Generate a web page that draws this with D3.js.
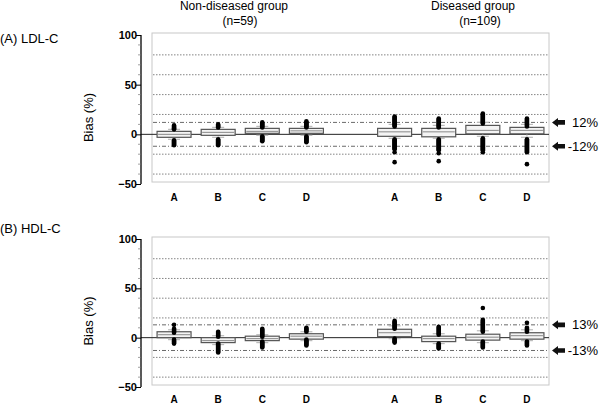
<!DOCTYPE html>
<html>
<head>
  <meta charset="utf-8"><script src="https://d3js.org/d3.v7.min.js"></script>
</head>
<body style="margin:0" onload="execute()">
  <svg id="mychart" width="600" height="404" style="background: white"></svg>
</body>
<script>
  // categories and groups
  categories = ["A", "B", "C", "D"]
  groups = ["Non-diseased group", "Diseased group"]
  groupN = ["(n=59)", "(n=109)"]
  yTicks = [100, 50, 0, -50]
  minorTicks = [90, 80, 70, 60, 40, 30, 20, 10, -10, -20, -30, -40]
  dottedGrid = [80, 60, 40, 20, -20, -40]
  ldlLimits = [12, -12]
  hdlLimits = [13, -13]

  // box stats: [q1, median, q3, whiskerLow, whiskerHigh], order ND A-D then D A-D
  ldlBoxes = [
    [-3, 0, 3, -5, 5], [-1, 2, 5, -3, 7], [1, 3, 6, -1, 8], [1, 3.5, 6, -1, 8],
    [-2, 2.5, 6, -4, 10], [-2.5, 2.5, 6, -4, 9], [0.5, 4, 9, -2, 12], [0.5, 4, 7, -3, 10]
  ]
  ldlOutliers = [
    [5, 6, 7, 8, 9, -6, -7, -8, -9, -10, -11],
    [7, 8, 9, 10, -5, -6, -7, -8, -9, -10, -11],
    [7, 8, 9, 10, 11, 12, -2, -3, -4, -5, -6, -7],
    [7, 8, 9, 10, 11, 12, 13, -2, -3, -4, -5, -6, -7, -8],
    [8, 9, 10, 11, 12, 13, 14, 15, 16, 17, 18, -5, -6, -7, -8, -9, -10, -11, -12, -13, -14, -15, -18, -28],
    [7, 8, 9, 10, 11, 12, 13, 14, 15, 16, -5, -6, -7, -8, -9, -10, -11, -12, -13, -14, -15, -16, -19, -27],
    [11, 12, 13, 14, 15, 16, 17, 18, 19, 20, 21, -4, -5, -6, -7, -8, -9, -10, -11, -12, -13, -14, -15, -16, -18],
    [8, 9, 10, 11, 12, 13, 14, 15, 16, -5, -6, -7, -8, -9, -10, -11, -12, -13, -14, -15, -16, -17, -18, -30]
  ]
  hdlBoxes = [
    [0, 3, 6, -2, 8], [-5, -3, 0, -7, 2], [-3, -1, 1.5, -5, 3], [-1.5, 1.5, 4, -3, 6],
    [1, 5, 8.5, -1, 12], [-4, -1, 1.5, -6, 4], [-2.5, 0.5, 3.5, -5, 7], [-1.5, 2, 5, -3, 8]
  ]
  hdlOutliers = [
    [5, 6, 7, 8, 9, 13, -2, -3, -4, -5, -6],
    [1, 2, 3, 4, 5, 6, -6, -7, -8, -9, -10, -11, -12, -13, -14, -15],
    [1, 2, 3, 4, 5, 6, 7, 8, 9, -4, -5, -6, -7, -8, -9, -10],
    [6, 7, 8, 9, 10, -2, -3, -4, -5, -6, -7, -8],
    [9, 10, 11, 12, 13, 14, 15, 16, 17, -1, -2, -3, -4, -5],
    [3, 4, 5, 6, 7, 8, 9, 10, 11, -6, -7, -8, -9, -10, -11],
    [6, 7, 8, 9, 10, 11, 12, 13, 14, 15, 16, 17, 18, 30, -4, -5, -6, -7, -8, -9, -10],
    [6, 7, 8, 9, 10, 15, -4, -5, -6, -7, -8]
  ]

  function execute() {
    font = "Liberation Sans, Arial, sans-serif"
    svg = d3.select("#mychart").style("font-family", font)

    // 9 slots: 4 categories, a gap, 4 categories
    slots = ["n0", "n1", "n2", "n3", "gap", "d0", "d1", "d2", "d3"]
    keys = ["n0", "n1", "n2", "n3", "d0", "d1", "d2", "d3"]
    x = d3.scaleBand().domain(slots).range([152, 549])

    // group titles
    svg.append("text").attr("x", 234).attr("y", 10).attr("text-anchor", "middle")
      .attr("font-size", 12).text(groups[0])
    svg.append("text").attr("x", 240).attr("y", 25).attr("text-anchor", "middle")
      .attr("font-size", 12).text(groupN[0])
    svg.append("text").attr("x", 473).attr("y", 10).attr("text-anchor", "middle")
      .attr("font-size", 12).text(groups[1])
    svg.append("text").attr("x", 480).attr("y", 25).attr("text-anchor", "middle")
      .attr("font-size", 12).text(groupN[1])

    panel("(A) LDL-C", 43, [184, 35], ldlBoxes, ldlOutliers, ldlLimits, 201)
    panel("(B) HDL-C", 233, [387, 239], hdlBoxes, hdlOutliers, hdlLimits, 403)

    function panel(title, titleY, yRange, boxes, outliers, limits, labelY) {
      y = d3.scaleLinear().domain([-50, 100]).range(yRange)
      g = svg.append("g")

      g.append("text").attr("x", 0).attr("y", titleY).attr("font-size", 13).text(title)

      // plot frame
      g.append("rect").attr("x", 152).attr("y", y(100) - 2)
        .attr("width", 397).attr("height", y(-50) - y(100))
        .attr("fill", "none").attr("stroke", "#c8c8c8")

      // grid
      g.selectAll(".grid").data(dottedGrid).join("line")
        .attr("x1", 153).attr("x2", 548).attr("y1", d => y(d)).attr("y2", d => y(d))
        .attr("stroke", "#666").attr("stroke-width", 0.8).attr("stroke-dasharray", "1.5,1.5")
      g.selectAll(".lim").data(limits).join("line")
        .attr("x1", 153).attr("x2", 548).attr("y1", d => y(d)).attr("y2", d => y(d))
        .attr("stroke", "#444").attr("stroke-width", 0.8).attr("stroke-dasharray", "4,2,1,2")
      g.append("line").attr("x1", 141).attr("x2", 549).attr("y1", y(0)).attr("y2", y(0))
        .attr("stroke", "#222").attr("stroke-width", 1)

      // y axis
      g.append("g").attr("transform", "translate(141,0)")
        .call(d3.axisLeft(y).tickValues(yTicks).tickSize(5).tickFormat(d3.format("d")))
        .call(a => a.select(".domain").attr("d", `M0,${y(100)}V${y(-50)}`).attr("stroke-width", 1.3))
        .call(a => a.selectAll("text").attr("font-weight", "bold").attr("font-size", 11)
          .attr("font-family", font).attr("x", -4))
      g.selectAll(".minor").data(minorTicks).join("line")
        .attr("x1", 138).attr("x2", 141).attr("y1", d => y(d)).attr("y2", d => y(d))
        .attr("stroke", "#777").attr("stroke-width", 0.7)

      g.append("text").attr("transform", `translate(93,${(y(100) + y(-50)) / 2 + 8}) rotate(-90)`)
        .attr("text-anchor", "middle").attr("font-size", 13).text("Bias (%)")

      // boxes
      bw = x.bandwidth() * 0.77
      keys.forEach((k, i) => {
        cx = x(k) + x.bandwidth() / 2
        b = boxes[i]
        // whiskers
        g.append("line").attr("x1", cx).attr("x2", cx).attr("y1", y(b[4])).attr("y2", y(b[3]))
          .attr("stroke", "#bbb")
        g.selectAll(null).data([b[3], b[4]]).join("line")
          .attr("x1", cx - 6).attr("x2", cx + 6).attr("y1", d => y(d)).attr("y2", d => y(d))
          .attr("stroke", "#bbb").attr("stroke-width", 1.2)
        g.append("rect").attr("x", cx - bw / 2).attr("y", y(b[2]))
          .attr("width", bw).attr("height", y(b[0]) - y(b[2]))
          .attr("fill", "#f4f4f4").attr("stroke", "#555").attr("stroke-width", 1.2)
        g.append("line").attr("x1", cx - bw / 2 + 1).attr("x2", cx + bw / 2 - 1)
          .attr("y1", y(b[1])).attr("y2", y(b[1])).attr("stroke", "#888").attr("stroke-width", 1)
        g.selectAll(null).data(outliers[i]).join("circle")
          .attr("cx", cx).attr("cy", d => y(d)).attr("r", 2.3).attr("fill", "#000")
        g.append("text").attr("x", cx).attr("y", labelY).attr("text-anchor", "middle")
          .attr("font-size", 10).attr("font-weight", "bold").text(categories[i % 4])
      })

      // arrows and limit labels
      limits.forEach(v => {
        yy = y(v)
        g.append("path")
          .attr("d", `M552,${yy}L558,${yy - 4.5}L558,${yy - 2.3}L565,${yy - 2.3}L565,${yy + 2.3}L558,${yy + 2.3}L558,${yy + 4.5}Z`)
          .attr("fill", "#111")
        g.append("text").attr("x", 598).attr("y", yy + 4.5).attr("text-anchor", "end")
          .attr("font-size", 13).text(v + "%")
      })
    }
  }
</script>
</html>
